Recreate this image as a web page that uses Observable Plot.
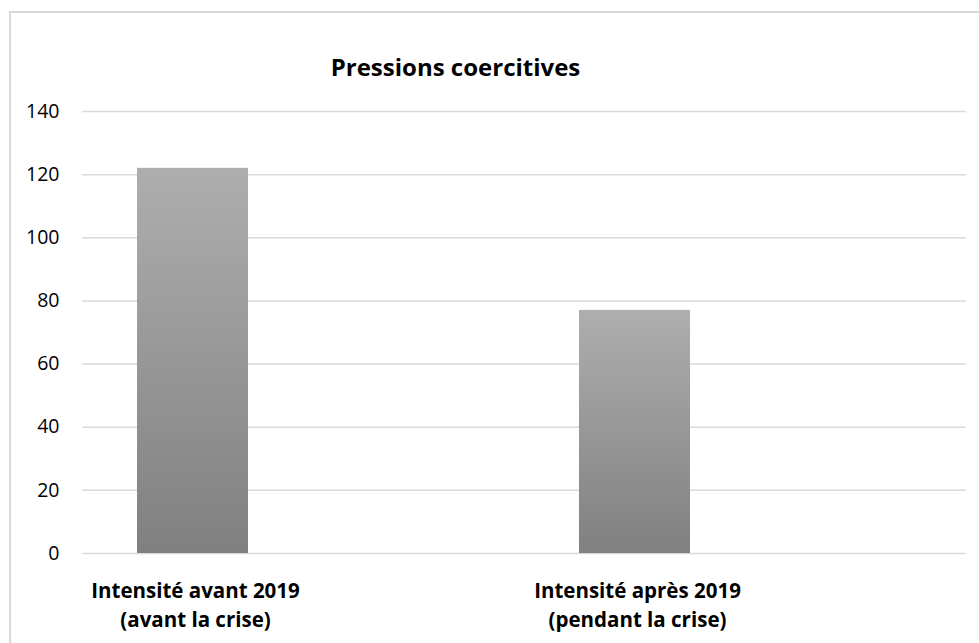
<!DOCTYPE html>
<html>
<head>
<meta charset="utf-8">
<script src="https://cdn.jsdelivr.net/npm/d3@7"></script>
<script src="https://cdn.jsdelivr.net/npm/@observablehq/plot@0.6"></script>
<style>
  html, body { margin: 0; padding: 0; background: #fff; overflow: hidden; width: 979px; height: 643px; }
  #frame { position: absolute; left: 9px; top: 11px; width: 1100px; height: 800px; border: 2px solid #d9d9d9; box-sizing: border-box; }
  #chart { position: absolute; left: 0; top: 0; }
</style>
</head>
<body>
<div id="frame"></div>
<div id="chart"></div>
<script>
const categories = ["Intensité avant 2019\n(avant la crise)", "Intensité après 2019\n(pendant la crise)"];
const values = [122, 77];
const yTicks = [0, 20, 40, 60, 80, 100, 120, 140];
const titleText = "Pressions coercitives";

const data = categories.map((c, i) => ({cat: c, value: values[i]}));

const gradientDefs = () => {
  const defs = d3.create("svg:defs");
  const g = defs.append("linearGradient")
    .attr("id", "barGrad")
    .attr("x1", 0).attr("y1", 0).attr("x2", 0).attr("y2", 1);
  g.append("stop").attr("offset", "0%").attr("stop-color", "#aeaeae");
  g.append("stop").attr("offset", "100%").attr("stop-color", "#808080");
  return defs.node();
};

const chart = Plot.plot({
  width: 979,
  height: 643,
  marginLeft: 82,
  marginRight: 13,
  marginTop: 111,
  marginBottom: 90,
  style: {fontFamily: "'Open Sans', Lato, sans-serif", background: "transparent", color: "#000"},
  x: {domain: categories, padding: 0, axis: null},
  y: {domain: [0, 140], axis: null},
  marks: [
    gradientDefs,
    Plot.gridY(yTicks, {stroke: "#d9d9d9", strokeOpacity: 1, strokeWidth: 1.5}),
    Plot.barY(data, {x: "cat", y: "value", fill: "url(#barGrad)", insetLeft: 55, insetRight: 276}),
    Plot.axisY(yTicks, {tickSize: 0, tickPadding: 23, fontSize: 19.5, fill: "#000", label: null}),
    Plot.axisX({tickSize: 0, tickPadding: 25, dx: -108, fontSize: 20.5, fontWeight: "bold", fill: "#000", lineHeight: 1.37, label: null}),
    Plot.text([titleText], {frameAnchor: "top", dx: -69, dy: -53, lineAnchor: "top", fontSize: 24, fontWeight: "bold", fill: "#000"})
  ]
});
document.getElementById("chart").appendChild(chart);
</script>
</body>
</html>
